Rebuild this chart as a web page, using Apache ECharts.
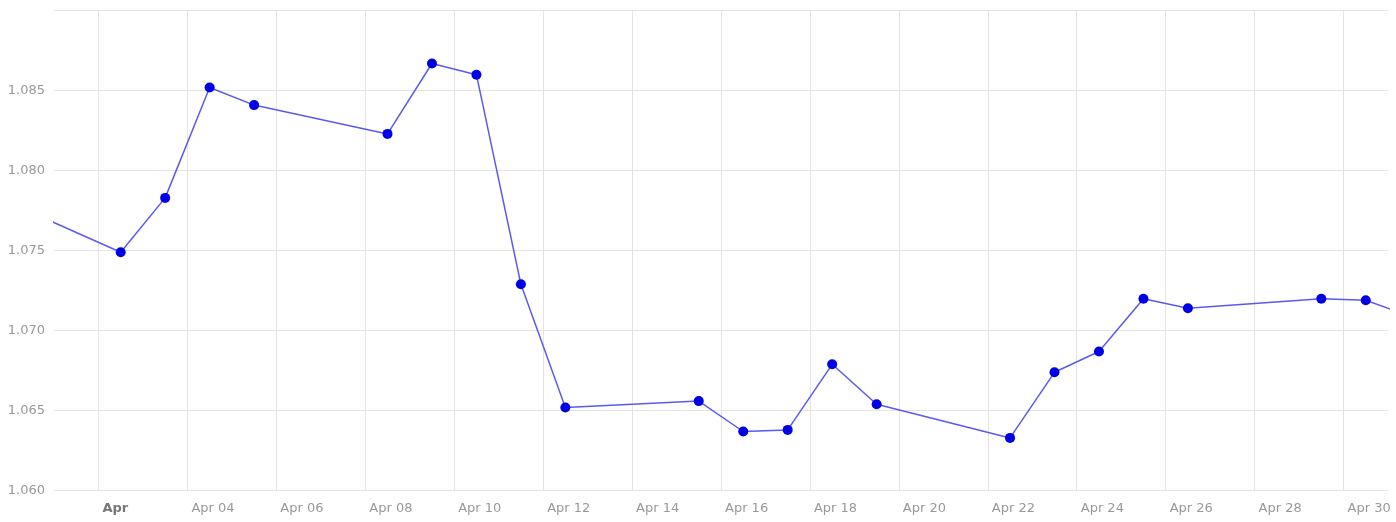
<!DOCTYPE html>
<html>
<head>
<meta charset="utf-8">
<script src="https://cdn.jsdelivr.net/npm/echarts@6/dist/echarts.min.js"></script>
<style>
  html, body { margin: 0; padding: 0; background: #fff; }
  #chart { width: 1396px; height: 522px; }
</style>
</head>
<body>
<div id="chart"></div>
<script>
// fixing dates (day of month) and rates, incl. the neighbours just outside April
const months = ['Mar', 'Apr', 'Apr', 'Apr', 'Apr', 'Apr', 'Apr', 'Apr', 'Apr', 'Apr', 'Apr', 'Apr',
  'Apr', 'Apr', 'Apr', 'Apr', 'Apr', 'Apr', 'Apr', 'Apr', 'Apr', 'Apr', 'May'];
const days = [28, 2, 3, 4, 5, 8, 9, 10, 11, 12, 15, 16, 17, 18, 19, 22, 23, 24, 25, 26, 29, 30, 2];
const rates = [1.0811, 1.0749, 1.0783, 1.0852, 1.0841, 1.0823, 1.0867, 1.0860, 1.0729, 1.0652,
  1.0656, 1.0637, 1.0638, 1.0679, 1.0654, 1.0633, 1.0674, 1.0687, 1.0720, 1.0714, 1.0720, 1.0719, 1.0699];

// x tick labels, one every two days starting at Apr 02
const tickDays = [2, 4, 6, 8, 10, 12, 14, 16, 18, 20, 22, 24, 26, 28, 30];
const tickLabels = ['Apr', 'Apr 04', 'Apr 06', 'Apr 08', 'Apr 10', 'Apr 12', 'Apr 14', 'Apr 16',
  'Apr 18', 'Apr 20', 'Apr 22', 'Apr 24', 'Apr 26', 'Apr 28', 'Apr 30'];

// the source chart placed each fixing around midday of its date
const dayShiftHours = 12;

// x = day of April (Apr 1 00:00 -> 1)
function dayValue(month, day) {
  let d = day;
  if (month === 'Mar') d = day - 31;
  if (month === 'May') d = day + 30;
  return d + dayShiftHours / 24;
}

const points = days.map((d, i) => [dayValue(months[i], d), rates[i]]);

const chart = echarts.init(document.getElementById('chart'), null, { renderer: 'canvas' });

chart.setOption({
  animation: false,
  backgroundColor: '#ffffff',
  textStyle: { fontFamily: 'DejaVu Sans' },
  grid: { left: 54, right: 8, top: 10.7, bottom: 31.3, containLabel: false },
  xAxis: {
    type: 'value',
    min: 1,
    max: 31,
    splitNumber: 15,
    minInterval: 2,
    maxInterval: 2,
    axisLine: { show: false },
    axisTick: { show: false },
    splitLine: {
      show: true,
      showMinLine: false,
      showMaxLine: false,
      lineStyle: { color: '#e4e4e4', width: 1 }
    },
    axisLabel: {
      showMinLabel: false,
      showMaxLabel: false,
      align: 'left',
      margin: 11,
      padding: [0, 0, 0, 4],
      fontSize: 13,
      color: '#999999',
      formatter: function (v) {
        const i = tickDays.indexOf(Math.round(v));
        if (i < 0) return '';
        return i === 0 ? '{b|' + tickLabels[i] + '}' : tickLabels[i];
      },
      rich: {
        b: { fontWeight: 'bold', color: '#777777', fontSize: 13, fontFamily: 'DejaVu Sans' }
      }
    }
  },
  yAxis: {
    type: 'value',
    min: 1.060,
    max: 1.090,
    interval: 0.005,
    axisLine: { show: false },
    axisTick: { show: false },
    splitLine: { lineStyle: { color: '#e4e4e4', width: 1 } },
    axisLabel: {
      showMaxLabel: false,
      margin: 9,
      fontSize: 13,
      color: '#999999',
      formatter: v => v.toFixed(3)
    }
  },
  series: [{
    type: 'line',
    data: points,
    clip: true,
    symbol: 'circle',
    symbolSize: 10,
    showAllSymbol: true,
    itemStyle: { color: '#0000e6' },
    lineStyle: { color: '#5a5af0', width: 1.5 },
    emphasis: { disabled: true }
  }]
});
</script>
</body>
</html>
